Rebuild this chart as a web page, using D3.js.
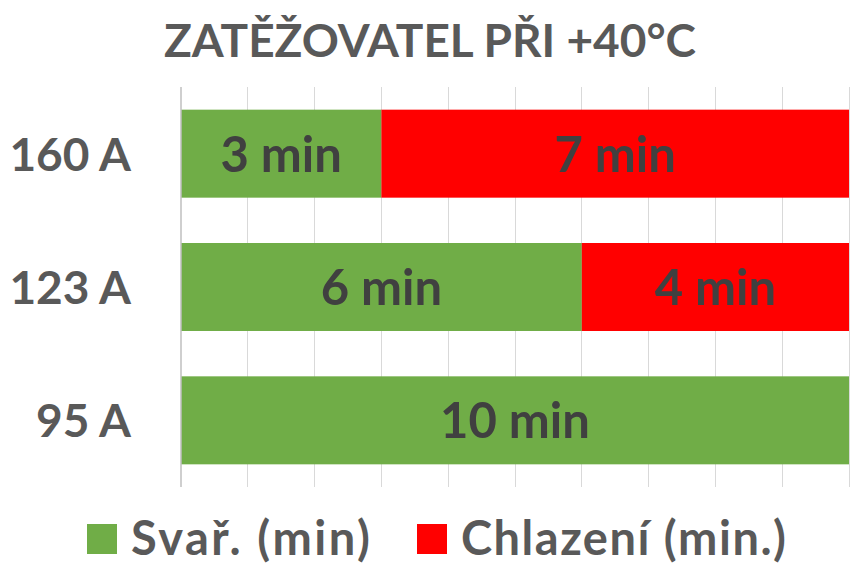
<!DOCTYPE html>
<html><head><meta charset="utf-8">
<script src="https://cdn.jsdelivr.net/npm/d3@7"></script>
<style>body{margin:0;background:#fff}svg{display:block}</style>
</head><body>
<svg id="c" width="862" height="578"></svg>
<script>
const title = "ZATĚŽOVATEL PŘI +40°C";
const categories = ["160 A", "123 A", "95 A"];
const seriesNames = ["Svař. (min)", "Chlazení (min.)"];
const svarValues = [3, 6, 10];
const chlazeniValues = [7, 4, 0];
const xTicks = [0,1,2,3,4,5,6,7,8,9,10];
const colors = ["#70AD47", "#FF0000"];

const FONT = "Lato, 'Open Sans', sans-serif";
const svg = d3.select("#c");
const x = d3.scaleLinear().domain([0, 10]).range([181, 849]);
const y = d3.scaleBand().domain(categories).range([87, 487]).paddingInner(0.34).paddingOuter(0.17);

// gridlines
svg.append("g").selectAll("line").data(xTicks.slice(1)).join("line")
  .attr("x1", d => x(d)).attr("x2", d => x(d))
  .attr("y1", 87).attr("y2", 487)
  .attr("stroke", "#d9d9d9").attr("stroke-width", 1).attr("shape-rendering","crispEdges");

const stacked = categories.map((c, i) => ({cat: c, vals: [svarValues[i], chlazeniValues[i]]}));
const segs = [];
stacked.forEach(s => {
  let acc = 0;
  s.vals.forEach((v, j) => { segs.push({cat: s.cat, x0: acc, x1: acc + v, v, j}); acc += v; });
});

svg.append("g").selectAll("rect").data(segs.filter(d => d.v > 0)).join("rect")
  .attr("x", d => x(d.x0)).attr("width", d => x(d.x1) - x(d.x0))
  .attr("y", d => y(d.cat)).attr("height", y.bandwidth())
  .attr("fill", d => colors[d.j]);

// axis line
svg.append("line").attr("x1", x(0)).attr("x2", x(0)).attr("y1", 87).attr("y2", 487)
  .attr("stroke", "#bfbfbf").attr("stroke-width", 1.5);

// data labels
svg.append("g").selectAll("text").data(segs.filter(d => d.v > 0)).join("text")
  .attr("x", d => (x(d.x0) + x(d.x1)) / 2)
  .attr("y", d => y(d.cat) + y.bandwidth() / 2 + 18)
  .attr("text-anchor", "middle")
  .attr("font-family", FONT).attr("font-weight", "bold").attr("font-size", 49)
  .attr("fill", "#404040")
  .text(d => d.v + " min");

// category labels
svg.append("g").selectAll("text").data(categories).join("text")
  .attr("x", 131).attr("y", d => y(d) + y.bandwidth() / 2 + 17)
  .attr("text-anchor", "end")
  .attr("font-family", FONT).attr("font-weight", "bold").attr("font-size", 46)
  .attr("fill", "#595959").text(d => d);

// title
svg.append("text").attr("x", 430).attr("y", 57).attr("text-anchor", "middle")
  .attr("font-family", FONT).attr("font-weight", "bold").attr("font-size", 46)
  .attr("fill", "#595959").text(title);

// legend
const legX = [87, 417];
const legLen = [239, 325];
const lg = svg.append("g").selectAll("g").data(seriesNames).join("g")
  .attr("transform", (d, i) => `translate(${legX[i]},0)`);
lg.append("rect").attr("x", 0).attr("y", 524).attr("width", 30).attr("height", 30)
  .attr("fill", (d, i) => colors[i]);
lg.append("text").attr("x", 44).attr("y", 555)
  .attr("font-family", FONT).attr("font-weight", "bold").attr("font-size", 47)
  .attr("textLength", (d, i) => legLen[i]).attr("lengthAdjust", "spacing")
  .attr("fill", "#595959").text(d => d);
</script>
</body></html>
